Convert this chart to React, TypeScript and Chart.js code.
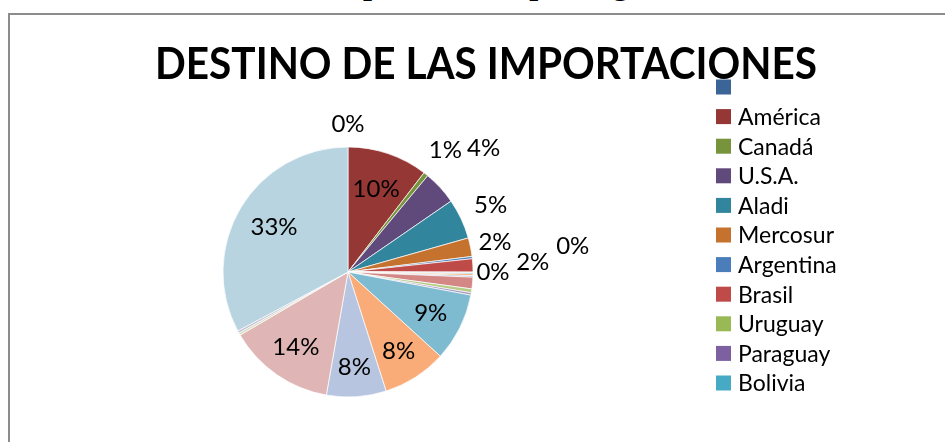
import React, { useEffect, useRef } from "react";
import { Chart, registerables } from "chart.js";

Chart.register(...registerables);

const categories = [
  "", "América", "Canadá", "U.S.A.", "Aladi", "Mercosur", "Argentina", "Brasil",
  "Uruguay", "Paraguay", "Bolivia", "Chile", "Perú", "Colombia", "Ecuador",
  "Venezuela", "México", "Resto de América", "Europa", "Asia", "África",
  "Oceanía", "Otros",
];

const shares = [
  0, 10.4, 0.6, 4.4, 5.2, 2.4, 0.3, 1.7,
  0.05, 0.05, 0.15, 0.2, 0.2, 1.5, 0.5,
  0.3, 8.8, 8.3, 7.7, 13.8, 0.3,
  0.3, 32.8,
];

const sliceColors = [
  "#3B6497", "#953735", "#77933C", "#604A7B", "#31859C", "#C6722F", "#4A7EBB", "#BE4B48",
  "#98B954", "#7D60A0", "#46AAC5", "#F69240", "#9DB3D8", "#D38886", "#B5CC86",
  "#A594C0", "#7FBBD0", "#F9AB78", "#B8C5E0", "#DFB6B5", "#D3DFBA",
  "#C6BBD6", "#B7D4E0",
];

// label distance from centre as a fraction of the radius (null = no label shown)
const labelRadius: (number | null)[] = [
  1.18, 0.7, 1.25, 1.47, 1.26, 1.2, 1.81, 1.48,
  1.16, null, null, null, null, null, null,
  null, 0.74, 0.75, 0.76, 0.73, null,
  null, 0.69,
];

const legendCount = 11;
const titleText = "DESTINO DE LAS IMPORTACIONES";

const overlayPlugin = {
  id: "overlay",
  afterDraw(chart: any) {
    const ctx = chart.ctx;
    const ds = chart.data.datasets[0];
    const total = (ds.data as number[]).reduce((a, b) => a + b, 0);
    const meta = chart.getDatasetMeta(0);
    ctx.save();
    // percentage labels
    ctx.fillStyle = "#000";
    ctx.font = '24px "Lato"';
    ctx.textAlign = "center";
    ctx.textBaseline = "middle";
    meta.data.forEach((arc: any, i: number) => {
      const f = labelRadius[i];
      if (f == null) return;
      const p = arc.getProps(["x", "y", "startAngle", "endAngle", "outerRadius"], true);
      const mid = (p.startAngle + p.endAngle) / 2;
      const r = p.outerRadius * f;
      const pct = Math.round((ds.data[i] / total) * 100);
      ctx.fillText(pct + "%", p.x + Math.cos(mid) * r, p.y + Math.sin(mid) * r);
    });
    // title
    ctx.font = 'bold 43px "Lato"';
    ctx.textAlign = "center";
    ctx.textBaseline = "alphabetic";
    ctx.fillText(titleText, 486, 79, 662);
    // legend
    ctx.font = '23px "Lato"';
    ctx.textAlign = "left";
    ctx.textBaseline = "middle";
    for (let i = 0; i < legendCount; i++) {
      const cy = 87 + i * 29.6;
      ctx.fillStyle = ds.backgroundColor[i];
      ctx.fillRect(716, cy - 7.5, 15, 15);
      ctx.fillStyle = "#000";
      ctx.fillText(chart.data.labels[i], 738, cy + 1);
    }
    ctx.restore();
  },
};

export default function App() {
  const ref = useRef<HTMLCanvasElement | null>(null);
  useEffect(() => {
    if (!ref.current) return;
    const chart = new Chart(ref.current, {
      type: "pie",
      data: {
        labels: categories,
        datasets: [
          {
            data: shares,
            backgroundColor: sliceColors,
            borderColor: "#ffffff",
            borderWidth: 0.7,
            radius: 125,
          },
        ],
      },
      options: {
        responsive: false,
        animation: false,
        layout: { padding: { left: 223, right: 472, top: 147, bottom: 45 } },
        plugins: {
          legend: { display: false },
          title: { display: false },
          tooltip: { enabled: false },
        },
      },
      plugins: [overlayPlugin],
    });
    return () => chart.destroy();
  }, []);

  return (
    <div
      style={{
        position: "fixed",
        left: 0,
        top: 0,
        width: 945,
        height: 442,
        background: "#fff",
        overflow: "hidden",
      }}
    >
      <div
        style={{
          position: "absolute",
          left: 324,
          top: -33,
          font: 'bold 32px "Liberation Serif"',
          lineHeight: "32px",
          whiteSpace: "nowrap",
          color: "#000",
        }}
      >
        Importaciones por regiones
      </div>
      <div
        style={{
          position: "absolute",
          left: 8,
          top: 13,
          width: 2000,
          height: 2000,
          borderLeft: "2px solid #8c8c8c",
          borderTop: "2px solid #8c8c8c",
        }}
      />
      <canvas
        ref={ref}
        width={945}
        height={442}
        style={{ position: "absolute", left: 0, top: 0 }}
      />
    </div>
  );
}
